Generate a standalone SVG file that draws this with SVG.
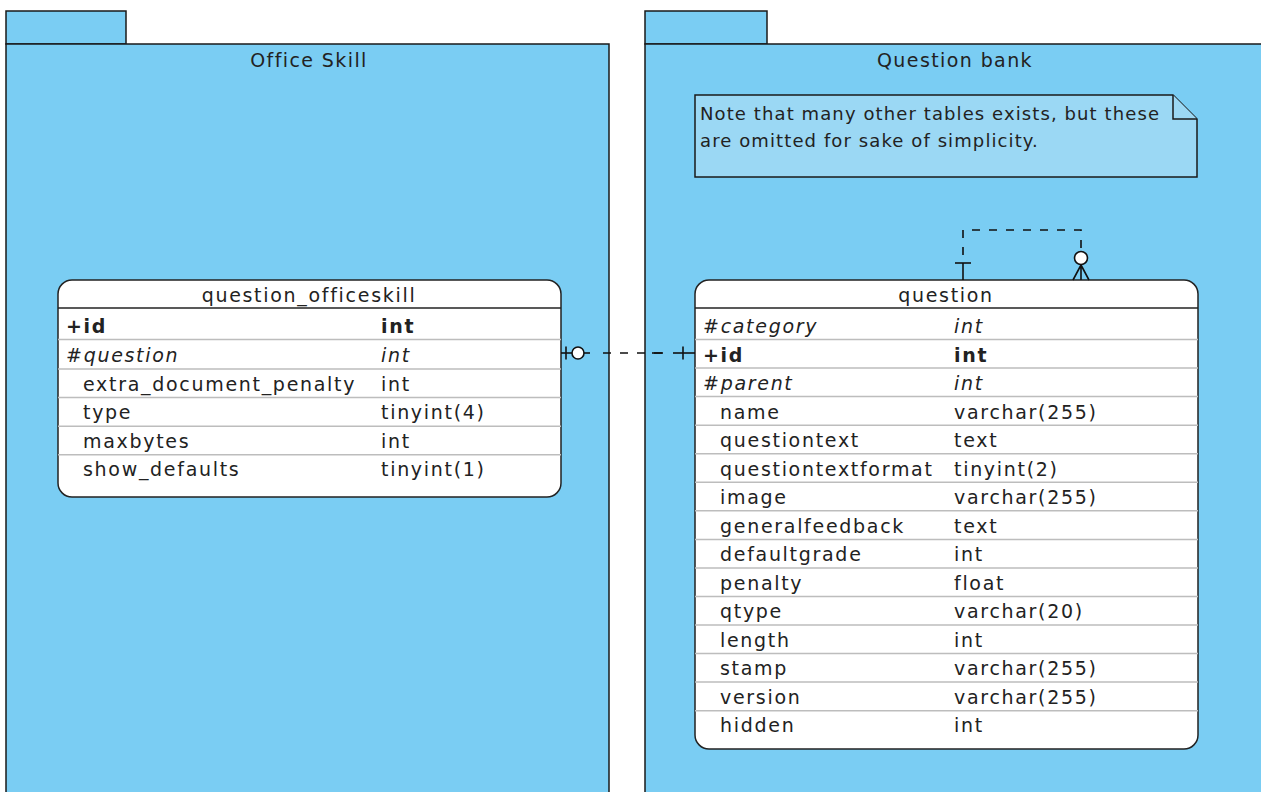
<svg xmlns="http://www.w3.org/2000/svg" width="1261" height="792" viewBox="0 0 1261 792">
<style>
.pkg{fill:#7ACDF3;stroke:#1a1a1a;stroke-width:1.5}
.note{fill:#9BD8F4;stroke:#1a1a1a;stroke-width:1.5}
.tbl{fill:#ffffff;stroke:#222;stroke-width:1.5}
.hdr{stroke:#222;stroke-width:1.5}
.sep{stroke:#bdbdbd;stroke-width:1.5}
text{font-family:"DejaVu Sans",Verdana,sans-serif;font-size:19px;fill:#222;letter-spacing:1.7px}
.t{text-anchor:middle}
.k{font-weight:bold}
.f{font-style:italic}
.lbl{letter-spacing:1.4px}
.nt{font-size:18px;letter-spacing:1.1px}
.c{fill:none;stroke:#111;stroke-width:1.6}
.d{stroke-dasharray:8 9}
</style>
<g id="pkg-office-skill">
<rect class="pkg" x="6" y="11" width="120" height="33"/>
<rect class="pkg" x="6" y="44" width="603" height="760"/>
<text class="t lbl" x="309" y="67">Office Skill</text>
</g>
<g id="pkg-question-bank">
<rect class="pkg" x="645" y="11" width="122" height="33"/>
<rect class="pkg" x="645" y="44" width="630" height="760"/>
<text class="t lbl" x="955" y="67">Question bank</text>
</g>
<g id="note">
<path class="note" d="M695,95 H1173 L1197,119 V177 H695 Z"/>
<path class="note" d="M1173,95 V119 H1197"/>
<text class="nt" x="700" y="120">Note that many other tables exists, but these</text>
<text class="nt" x="700" y="147">are omitted for sake of simplicity.</text>
</g>
<g id="table-question_officeskill">
<rect class="tbl" x="58" y="280" width="503" height="217" rx="14"/>
<line class="hdr" x1="58" y1="308" x2="561" y2="308"/>
<line class="sep" x1="58" y1="339.5" x2="561" y2="339.5"/>
<line class="sep" x1="58" y1="369" x2="561" y2="369"/>
<line class="sep" x1="58" y1="397.6" x2="561" y2="397.6"/>
<line class="sep" x1="58" y1="426.2" x2="561" y2="426.2"/>
<line class="sep" x1="58" y1="454.7" x2="561" y2="454.7"/>
<text class="t" x="309" y="302">question_officeskill</text>
<text class="k" x="66" y="333">+id</text><text class="k" x="381" y="333">int</text>
<text x="66" y="362">#<tspan class="f">question</tspan></text><text class="f" x="381" y="362">int</text>
<text x="83" y="391">extra_document_penalty</text><text x="381" y="391">int</text>
<text x="83" y="419">type</text><text x="381" y="419">tinyint(4)</text>
<text x="83" y="448">maxbytes</text><text x="381" y="448">int</text>
<text x="83" y="476">show_defaults</text><text x="381" y="476">tinyint(1)</text>
</g>
<g id="table-question">
<rect class="tbl" x="695" y="280" width="503" height="469" rx="14"/>
<line class="hdr" x1="695" y1="308" x2="1198" y2="308"/>
<line class="sep" x1="695" y1="339.5" x2="1198" y2="339.5"/>
<line class="sep" x1="695" y1="368" x2="1198" y2="368"/>
<line class="sep" x1="695" y1="396.6" x2="1198" y2="396.6"/>
<line class="sep" x1="695" y1="425.2" x2="1198" y2="425.2"/>
<line class="sep" x1="695" y1="453.7" x2="1198" y2="453.7"/>
<line class="sep" x1="695" y1="482.3" x2="1198" y2="482.3"/>
<line class="sep" x1="695" y1="510.8" x2="1198" y2="510.8"/>
<line class="sep" x1="695" y1="539.4" x2="1198" y2="539.4"/>
<line class="sep" x1="695" y1="567.9" x2="1198" y2="567.9"/>
<line class="sep" x1="695" y1="596.5" x2="1198" y2="596.5"/>
<line class="sep" x1="695" y1="625" x2="1198" y2="625"/>
<line class="sep" x1="695" y1="653.6" x2="1198" y2="653.6"/>
<line class="sep" x1="695" y1="682.1" x2="1198" y2="682.1"/>
<line class="sep" x1="695" y1="710.7" x2="1198" y2="710.7"/>
<text class="t" x="946" y="302">question</text>
<text x="703" y="333">#<tspan class="f">category</tspan></text><text class="f" x="954" y="333">int</text>
<text class="k" x="703" y="362">+id</text><text class="k" x="954" y="362">int</text>
<text x="703" y="390">#<tspan class="f">parent</tspan></text><text class="f" x="954" y="390">int</text>
<text x="720" y="419">name</text><text x="954" y="419">varchar(255)</text>
<text x="720" y="447">questiontext</text><text x="954" y="447">text</text>
<text x="720" y="476">questiontextformat</text><text x="954" y="476">tinyint(2)</text>
<text x="720" y="504">image</text><text x="954" y="504">varchar(255)</text>
<text x="720" y="533">generalfeedback</text><text x="954" y="533">text</text>
<text x="720" y="561">defaultgrade</text><text x="954" y="561">int</text>
<text x="720" y="590">penalty</text><text x="954" y="590">float</text>
<text x="720" y="618">qtype</text><text x="954" y="618">varchar(20)</text>
<text x="720" y="647">length</text><text x="954" y="647">int</text>
<text x="720" y="675">stamp</text><text x="954" y="675">varchar(255)</text>
<text x="720" y="704">version</text><text x="954" y="704">varchar(255)</text>
<text x="720" y="732">hidden</text><text x="954" y="732">int</text>
</g>
<g id="connectors">
<g id="rel-officeskill-question">
<path class="c" d="M561,353 H572"/>
<path class="c" d="M566,346.5 V359.5"/>
<circle cx="578" cy="353" r="6" fill="#fff" stroke="#111" stroke-width="1.6"/>
<path class="c" d="M584,353 H590"/>
<path class="c d" d="M603,353 H664"/>
<path class="c" d="M652,353 H663"/>
<path class="c" d="M673,353 H695"/>
<path class="c" d="M683,346.5 V359.5"/>
</g>
<g id="rel-question-parent">
<path class="c" d="M963,280 V263"/>
<path class="c" d="M955,263 H971"/>
<path class="c d" d="M963,255 V230 H1081 V252"/>
<circle cx="1081" cy="258" r="6.5" fill="#fff" stroke="#111" stroke-width="1.6"/>
<path class="c" d="M1081,265 V280 M1081,265 L1073,280 M1081,265 L1089,280"/>
</g>
</g>
</svg>
